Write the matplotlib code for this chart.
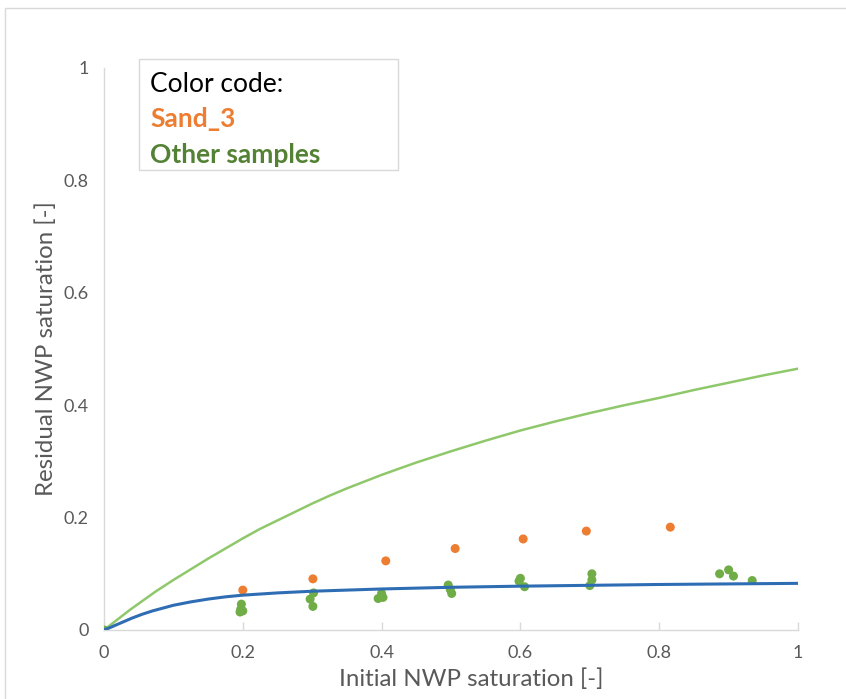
import matplotlib
matplotlib.use("Agg")
import matplotlib.pyplot as plt
from matplotlib.patches import Rectangle

plt.rcParams['font.family'] = ['Lato', 'DejaVu Sans']

# Measured residual vs initial saturation
sand3_si = [0.200, 0.301, 0.406, 0.506, 0.604, 0.695, 0.816]
sand3_sr = [0.071, 0.091, 0.123, 0.145, 0.162, 0.176, 0.183]

other_si = [0.0,
            0.198, 0.197, 0.196, 0.200,
            0.302, 0.297, 0.301,
            0.395, 0.400, 0.402,
            0.496, 0.499, 0.501,
            0.600, 0.598, 0.606,
            0.703, 0.703, 0.700,
            0.887, 0.900, 0.907, 0.934]
other_sr = [0.0,
            0.046, 0.037, 0.032, 0.034,
            0.066, 0.055, 0.042,
            0.056, 0.065, 0.058,
            0.080, 0.072, 0.065,
            0.092, 0.087, 0.077,
            0.100, 0.089, 0.079,
            0.100, 0.107, 0.096, 0.088]

# Trapping model curves
curve_a_si = [0, 0.01, 0.025, 0.04, 0.055, 0.07, 0.085, 0.1, 0.125, 0.15, 0.175,
              0.2, 0.25, 0.3, 0.35, 0.4, 0.5, 0.6, 0.7, 0.8, 0.9, 1.0]
curve_a_sr = [0, 0.005, 0.013, 0.021, 0.028, 0.034, 0.039, 0.044, 0.050, 0.055, 0.059,
              0.062, 0.066, 0.069, 0.071, 0.073, 0.076, 0.078, 0.0795, 0.081, 0.082, 0.083]

curve_b_si = [0, 0.0125, 0.025, 0.0375, 0.05, 0.0625, 0.075, 0.0875, 0.1, 0.125, 0.15,
              0.175, 0.2, 0.225, 0.25, 0.275, 0.3, 0.325, 0.35, 0.375, 0.4, 0.425,
              0.45, 0.475, 0.5, 0.55, 0.6, 0.65, 0.7, 0.75, 0.8, 0.85, 0.9, 0.95, 1.0]
curve_b_sr = [0, 0.012, 0.024, 0.036, 0.047, 0.058, 0.069, 0.079, 0.089, 0.108, 0.127,
              0.145, 0.163, 0.180, 0.195, 0.210, 0.225, 0.239, 0.252, 0.264, 0.276, 0.287,
              0.298, 0.308, 0.318, 0.337, 0.355, 0.371, 0.386, 0.400, 0.413, 0.427,
              0.440, 0.453, 0.465]

xticks = [0, 0.2, 0.4, 0.6, 0.8, 1]
yticks = [0, 0.2, 0.4, 0.6, 0.8, 1]
xtick_labels = ['0', '0.2', '0.4', '0.6', '0.8', '1']
ytick_labels = ['0', '0.2', '0.4', '0.6', '0.8', '1']

W, H = 846, 699
fig = plt.figure(figsize=(W / 100, H / 100), dpi=100)
ax = fig.add_axes([104 / W, 1 - 630 / H, (798 - 104) / W, (630 - 68) / H])

# chart frame
fig.patches.append(Rectangle((5 / W, -0.1), 1.2, 1 - 8 / H + 0.1,
                             transform=fig.transFigure, fill=False,
                             edgecolor='#D9D9D9', linewidth=1.0))

ax.plot(curve_b_si, curve_b_sr, color='#8FC86B', linewidth=1.8, zorder=2,
        solid_joinstyle='round')
ax.plot(curve_a_si, curve_a_sr, color='#2E6DB4', linewidth=2.2, zorder=4,
        solid_joinstyle='round')
ax.scatter(sand3_si, sand3_sr, s=42, color='#ED7D31', edgecolors='none', zorder=3)
ax.scatter(other_si, other_sr, s=42, color='#70AD47', edgecolors='none', zorder=3)

ax.set_xlim(0, 1)
ax.set_ylim(0, 1)
ax.set_xticks(xticks)
ax.set_xticklabels(xtick_labels)
ax.set_yticks(yticks)
ax.set_yticklabels(ytick_labels)

for s in ['top', 'right']:
    ax.spines[s].set_visible(False)
for s in ['left', 'bottom']:
    ax.spines[s].set_color('#D9D9D9')
    ax.spines[s].set_linewidth(1.0)

ax.tick_params(axis='x', direction='in', length=6, width=1.0, color='#D9D9D9',
               labelsize=13, labelcolor='#595959', pad=11)
ax.tick_params(axis='y', length=0, labelsize=13, labelcolor='#595959', pad=11)

ax.set_xlabel('Initial NWP saturation [-]', fontsize=17.3, color='#595959')
ax.xaxis.set_label_coords(0.529, -0.068)
ax.set_ylabel('Residual NWP saturation [-]', fontsize=17.3, color='#595959', labelpad=5)

# colour key box
fig.patches.append(Rectangle((139 / W, 1 - 170 / H), (398 - 139) / W, (170 - 59) / H,
                             transform=fig.transFigure, facecolor='white',
                             edgecolor='#D9D9D9', linewidth=1.0, zorder=5))
fig.text(150 / W, 1 - 85 / H, 'Color code:', fontsize=19, color='black',
         va='center', ha='left', zorder=6)
fig.text(150 / W, 1 - 119 / H, 'Sand_3', fontsize=19, color='#ED7D31',
         fontweight='bold', va='center', ha='left', zorder=6)
fig.text(150 / W, 1 - 155 / H, 'Other samples', fontsize=19, color='#548235',
         fontweight='bold', va='center', ha='left', zorder=6)

fig.savefig('out.png', dpi=100)
